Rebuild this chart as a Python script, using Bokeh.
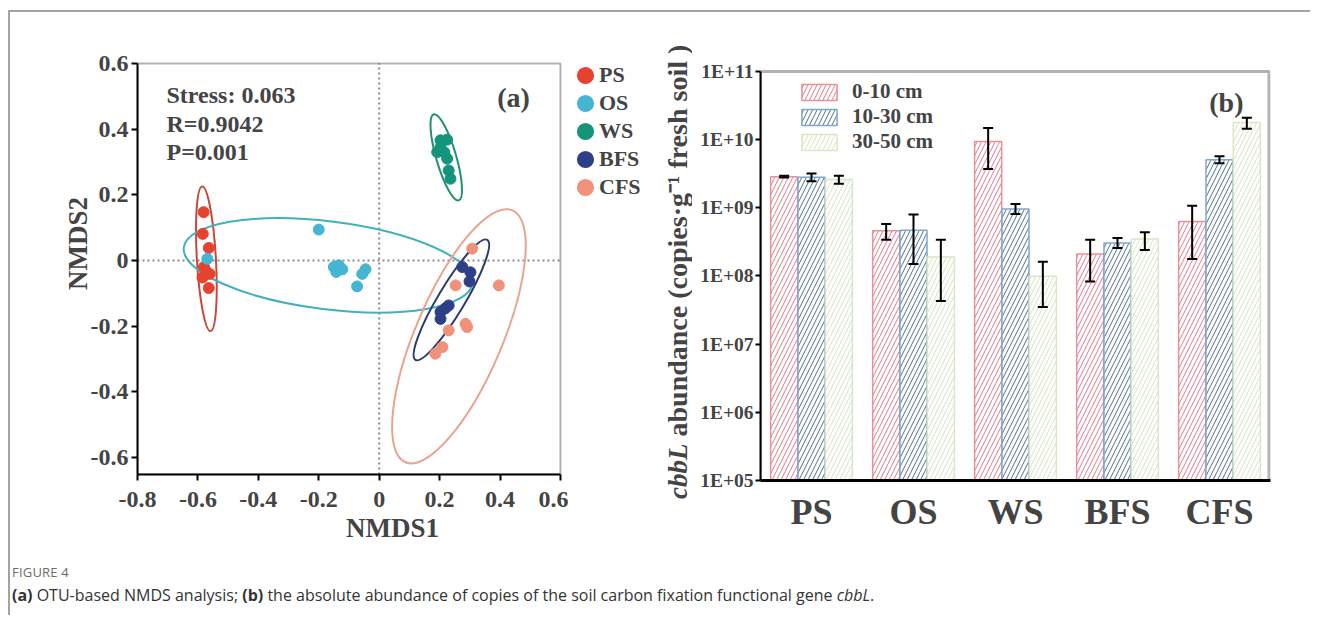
from math import radians, pi, log10
from bokeh.plotting import figure
from bokeh.models import (ColumnDataSource, Range1d, FactorRange, FixedTicker, CustomJSTickFormatter,
                          Label, Legend, LegendItem, Whisker, TeeHead, Div, BoxAnnotation)
from bokeh.layouts import row, column
from bokeh.transform import dodge
from bokeh.embed import file_html
from bokeh.resources import INLINE

SERIF = "Liberation Serif"

# ---------------- Panel (a): NMDS ----------------
groups = ["PS", "OS", "WS", "BFS", "CFS"]
pt_colors = ["#E5432F", "#46B5D4", "#14957A", "#2D3F86", "#F0917A"]
ell_colors = ["#C9483A", "#3FB2BC", "#1F9270", "#2C3C6E", "#E9A48F"]

ps_x = [-0.581, -0.584, -0.564, -0.580, -0.561, -0.585, -0.564, -0.575]
ps_y = [0.147, 0.081, 0.038, -0.020, -0.041, -0.052, -0.084, -0.030]
os_x = [-0.200, -0.150, -0.134, -0.122, -0.142, -0.056, -0.045, -0.073, -0.569]
os_y = [0.094, -0.020, -0.015, -0.027, -0.035, -0.041, -0.027, -0.079, 0.005]
ws_x = [0.203, 0.225, 0.192, 0.216, 0.225, 0.230, 0.236, 0.203]
ws_y = [0.366, 0.368, 0.330, 0.329, 0.310, 0.274, 0.249, 0.344]
bfs_x = [0.275, 0.302, 0.299, 0.230, 0.203, 0.203, 0.219]
bfs_y = [-0.020, -0.036, -0.064, -0.137, -0.157, -0.178, -0.146]
cfs_x = [0.308, 0.396, 0.253, 0.286, 0.291, 0.230, 0.209, 0.186]
cfs_y = [0.036, -0.076, -0.076, -0.193, -0.203, -0.213, -0.264, -0.284]

# confidence ellipses (centre, size along x / y before rotation, rotation in degrees)
ell_x = [-0.572, -0.169, 0.222, 0.239, 0.264]
ell_y = [0.005, -0.015, 0.314, -0.120, -0.231]
ell_w = [0.063, 0.963, 0.066, 0.463, 0.906]
ell_h = [0.442, 0.268, 0.273, 0.082, 0.265]
ell_deg = [3.3, -7.1, 16.2, 59.1, 67.0]

X_MIN, X_MAX = -0.8, 0.6
Y_MIN, Y_MAX = -0.652, 0.6
nmds_ticks_x = [-0.8, -0.6, -0.4, -0.2, 0.0, 0.2, 0.4, 0.6]
nmds_ticks_y = [-0.6, -0.4, -0.2, 0.0, 0.2, 0.4, 0.6]
stats_lines = ["Stress: 0.063", "R=0.9042", "P=0.001"]

# ---------------- Panel (b): cbbL abundance ----------------
sites = ["PS", "OS", "WS", "BFS", "CFS"]
depths = ["0-10 cm", "10-30 cm", "30-50 cm"]
v_0_10 = [2.86e9, 4.6e8, 9.4e9, 2.1e8, 6.3e8]
lo_0_10 = [2.78e9, 3.4e8, 3.7e9, 8.3e7, 1.78e8]
hi_0_10 = [2.95e9, 5.8e8, 1.48e10, 3.4e8, 1.07e9]
v_10_30 = [2.8e9, 4.7e8, 9.6e8, 3.05e8, 5.07e9]
lo_10_30 = [2.45e9, 1.5e8, 8.1e8, 2.57e8, 4.5e9]
hi_10_30 = [3.2e9, 8.0e8, 1.14e9, 3.6e8, 5.7e9]
v_30_50 = [2.6e9, 1.9e8, 9.9e7, 3.5e8, 1.79e10]
lo_30_50 = [2.25e9, 4.3e7, 3.5e7, 2.4e8, 1.45e10]
hi_30_50 = [2.95e9, 3.4e8, 1.62e8, 4.4e8, 2.1e10]
log_ticks = [1e5, 1e6, 1e7, 1e8, 1e9, 1e10, 1e11]
B_MIN, B_MAX = 1e5, 1e11

bar_line = ["#E8909A", "#7FA8D0", "#D8E8C4"]
bar_hatch = ["#E07C8A", "#50708F", "#D3E5BE"]

# layout constants (pixels)
H_ALL = 537
A_FW, A_FH = 426, 462
A_PX_X, A_PX_Y = 302.1, 328.3
B_FW, B_FH = 510, 468
B_PX_DEC = 68.17
XLAB_H = 37

def bare(fig):
    fig.axis.visible = False
    fig.grid.visible = False
    fig.outline_line_color = None
    return fig

# ================= figure (a) =================
p1 = figure(title=None, frame_width=A_FW, frame_height=A_FH, output_backend="svg", toolbar_location=None,
            x_range=Range1d(X_MIN, X_MIN + A_FW / A_PX_X), y_range=Range1d(Y_MIN, Y_MIN + A_FH / A_PX_Y),
            min_border_left=127, min_border_right=5, min_border_top=0,
            min_border_bottom=H_ALL - A_FH - XLAB_H)
p1.grid.visible = False
p1.outline_line_color = None
p1.add_layout(BoxAnnotation(left=X_MIN, right=X_MAX, bottom=Y_MIN, top=Y_MAX, fill_alpha=0,
                            line_color="black", line_width=2))
p1.segment(x0=[0, X_MIN], y0=[Y_MIN, 0], x1=[0, X_MAX], y1=[Y_MAX, 0],
           line_color="#8a8a8a", line_width=2, line_dash="2 3")

p1.ellipse(x=ell_x, y=ell_y, width=ell_w, height=ell_h, angle=[radians(a) for a in ell_deg],
           fill_color=None, line_color=ell_colors, line_width=2)

xs = [ps_x, os_x, ws_x, bfs_x, cfs_x]
ys = [ps_y, os_y, ws_y, bfs_y, cfs_y]
for g, c, gx, gy in zip(groups, pt_colors, xs, ys):
    p1.scatter(gx, gy, size=11, color=c, line_color=c)

for ax in (p1.xaxis[0], p1.yaxis[0]):
    ax.axis_line_width = 2
    ax.major_tick_line_width = 2
    ax.major_tick_out = 6
    ax.major_tick_in = 0
    ax.minor_tick_line_color = None
    ax.major_label_text_font = SERIF
    ax.major_label_text_font_style = "bold"
    ax.major_label_text_font_size = "24px"
    ax.axis_label_text_font = SERIF
    ax.axis_label_text_font_style = "bold"
    ax.axis_label_text_font_size = "27px"
    ax.formatter = CustomJSTickFormatter(code="return Math.abs(tick) < 1e-9 ? '0' : tick.toFixed(1)")
p1.xaxis.ticker = FixedTicker(ticks=nmds_ticks_x)
p1.yaxis.ticker = FixedTicker(ticks=nmds_ticks_y)
p1.xaxis.bounds = (X_MIN, X_MAX)
p1.yaxis.bounds = (Y_MIN, Y_MAX)
p1.xaxis.major_label_standoff = 11
p1.yaxis.major_label_standoff = 3
p1.yaxis.axis_label = "NMDS2"
p1.yaxis.axis_label_standoff = -5

for i, t in enumerate(stats_lines):
    p1.add_layout(Label(x=-0.704, y=0.505 - 0.088 * i, text=t, text_baseline="middle",
                        text_font=SERIF, text_font_style="bold", text_font_size="24px"))
p1.add_layout(Label(x=0.445, y=0.497, text="(a)", text_align="center", text_baseline="middle",
                    text_font=SERIF, text_font_style="bold", text_font_size="28px"))

# strip below (a) carrying its x-axis title
xlab = bare(figure(title=None, frame_width=A_FW, frame_height=XLAB_H, output_backend="svg",
                   toolbar_location=None, x_range=p1.x_range, y_range=Range1d(0, XLAB_H),
                   min_border_left=127, min_border_right=5, min_border_top=0, min_border_bottom=0))
xlab.add_layout(Label(x=0.044, y=22, text="NMDS1", text_align="center", text_baseline="middle",
                      text_font=SERIF, text_font_style="bold", text_font_size="27px"))

# ===== middle strip: key of (a) and the mixed-style y-axis title of (b) =====
MID_W = 124
mid = bare(figure(title=None, frame_width=MID_W, frame_height=H_ALL, output_backend="svg",
                  toolbar_location=None, x_range=Range1d(0, MID_W), y_range=Range1d(0, H_ALL),
                  min_border_left=0, min_border_right=0, min_border_top=0, min_border_bottom=0))
items = []
nan = float("nan")
for g, c in zip(groups, pt_colors):
    # key-only marker: a single undefined point, so only its legend swatch is drawn
    lr = mid.scatter(x=[nan], y=[nan], size=11, fill_color=c, line_color=c, line_width=6)
    items.append(LegendItem(label=g, renderers=[lr]))
leg1 = Legend(items=items, location=(3, 348), glyph_width=28, glyph_height=28, spacing=0,
              label_standoff=0, padding=0, margin=0, background_fill_alpha=0, border_line_color=None,
              label_text_font=SERIF, label_text_font_style="bold", label_text_font_size="22px")
mid.add_layout(leg1)
mid.add_layout(Label(x=109, y=106, angle=pi / 2, text="cbbL",
                     text_align="right", text_baseline="middle",
                     text_font=SERIF, text_font_style="bold italic", text_font_size="27px"))
mid.add_layout(Label(x=109, y=113, angle=pi / 2,
                     text="abundance (copies\u00b7g\u207b\u00b9 fresh soil )",
                     text_align="left", text_baseline="middle",
                     text_font=SERIF, text_font_style="bold", text_font_size="28px"))

# ================= figure (b) =================
src = ColumnDataSource(dict(site=sites, v0=v_0_10, l0=lo_0_10, h0=hi_0_10,
                            v1=v_10_30, l1=lo_10_30, h1=hi_10_30,
                            v2=v_30_50, l2=lo_30_50, h2=hi_30_50))
b_top = 10 ** (log10(B_MAX) + (B_FH - 6 * B_PX_DEC) / B_PX_DEC)
p2 = figure(title=None, frame_width=B_FW, frame_height=B_FH, output_backend="svg", toolbar_location=None,
            x_range=FactorRange(factors=sites, range_padding=0), y_range=Range1d(B_MIN, b_top),
            y_axis_type="log",
            min_border_left=68, min_border_right=30, min_border_top=0, min_border_bottom=H_ALL - B_FH)
p2.grid.visible = False
p2.outline_line_color = None
p2.add_layout(BoxAnnotation(left=0, right=4.985, bottom=B_MIN, top=B_MAX, fill_alpha=0,
                            line_color="black", line_width=3))

offsets = [-0.268, 0.0, 0.268]
renderers = []
for k, off in enumerate(offsets):
    r = p2.vbar(x=dodge("site", off, range=p2.x_range), top=f"v{k}", bottom=B_MIN, width=0.265, source=src,
                fill_color="white", line_color=bar_line[k], line_width=1.5,
                hatch_pattern="/", hatch_color=bar_hatch[k], hatch_scale=9, hatch_weight=1)
    renderers.append(r)
for k, off in enumerate(offsets):
    w = Whisker(base=dodge("site", off, range=p2.x_range), upper=f"h{k}", lower=f"l{k}", source=src,
                line_color="black", line_width=2, level="overlay",
                upper_head=TeeHead(size=10, line_width=2, line_color="black"),
                lower_head=TeeHead(size=10, line_width=2, line_color="black"))
    p2.add_layout(w)

leg2 = Legend(items=[LegendItem(label=d, renderers=[r]) for d, r in zip(depths, renderers)],
              location=(37, 326), glyph_width=44, glyph_height=20, spacing=0, label_standoff=11,
              padding=0, margin=0, background_fill_alpha=0, border_line_color=None,
              label_text_font=SERIF, label_text_font_style="bold", label_text_font_size="21px")
p2.add_layout(leg2)

p2.yaxis.ticker = FixedTicker(ticks=log_ticks)
p2.yaxis.formatter = CustomJSTickFormatter(
    code="return '1E+' + String(Math.round(Math.log10(tick))).padStart(2, '0')")
p2.yaxis.bounds = (B_MIN, B_MAX)
p2.yaxis.axis_line_width = 2
p2.yaxis.major_tick_line_width = 2
p2.yaxis.major_tick_out = 5
p2.yaxis.major_tick_in = 0
p2.yaxis.minor_tick_line_color = None
p2.yaxis.major_label_standoff = 2
p2.xaxis.axis_line_width = 3
p2.xaxis.major_tick_line_color = None
p2.xaxis.major_label_standoff = 5
for ax in (p2.xaxis[0], p2.yaxis[0]):
    ax.major_label_text_font = SERIF
    ax.major_label_text_font_style = "bold"
p2.yaxis.major_label_text_font_size = "19.5px"
p2.xaxis.major_label_text_font_size = "36px"

p2.add_layout(Label(x=5, y=B_MAX, x_offset=-27, y_offset=-31, text="(b)", text_align="right",
                    text_baseline="middle", text_font=SERIF, text_font_style="bold", text_font_size="28px"))

caption = Div(text=(
    '<div style="color:#6b6b6b;font-size:13px;line-height:18px;letter-spacing:0.2px;">FIGURE 4</div>'
    '<div style="color:#333;font-size:16px;line-height:22px;margin-top:3px;"><b>(a)</b> OTU-based NMDS analysis; '
    '<b>(b)</b> the absolute abundance of copies of the soil carbon fixation functional gene '
    '<i>cbbL</i>.</div>'),
    width=1300, height=66, margin=0,
    styles={"font-family": "'Open Sans', sans-serif", "padding-top": "14px", "padding-left": "2px"})

layout = column(row(column(p1, xlab), mid, p2), caption, margin=(10, 0, 0, 8),
                styles={"border-top": "2px solid #a3a3a3", "border-left": "2px solid #a3a3a3"})

open("out.html", "w").write(file_html(layout, INLINE))
